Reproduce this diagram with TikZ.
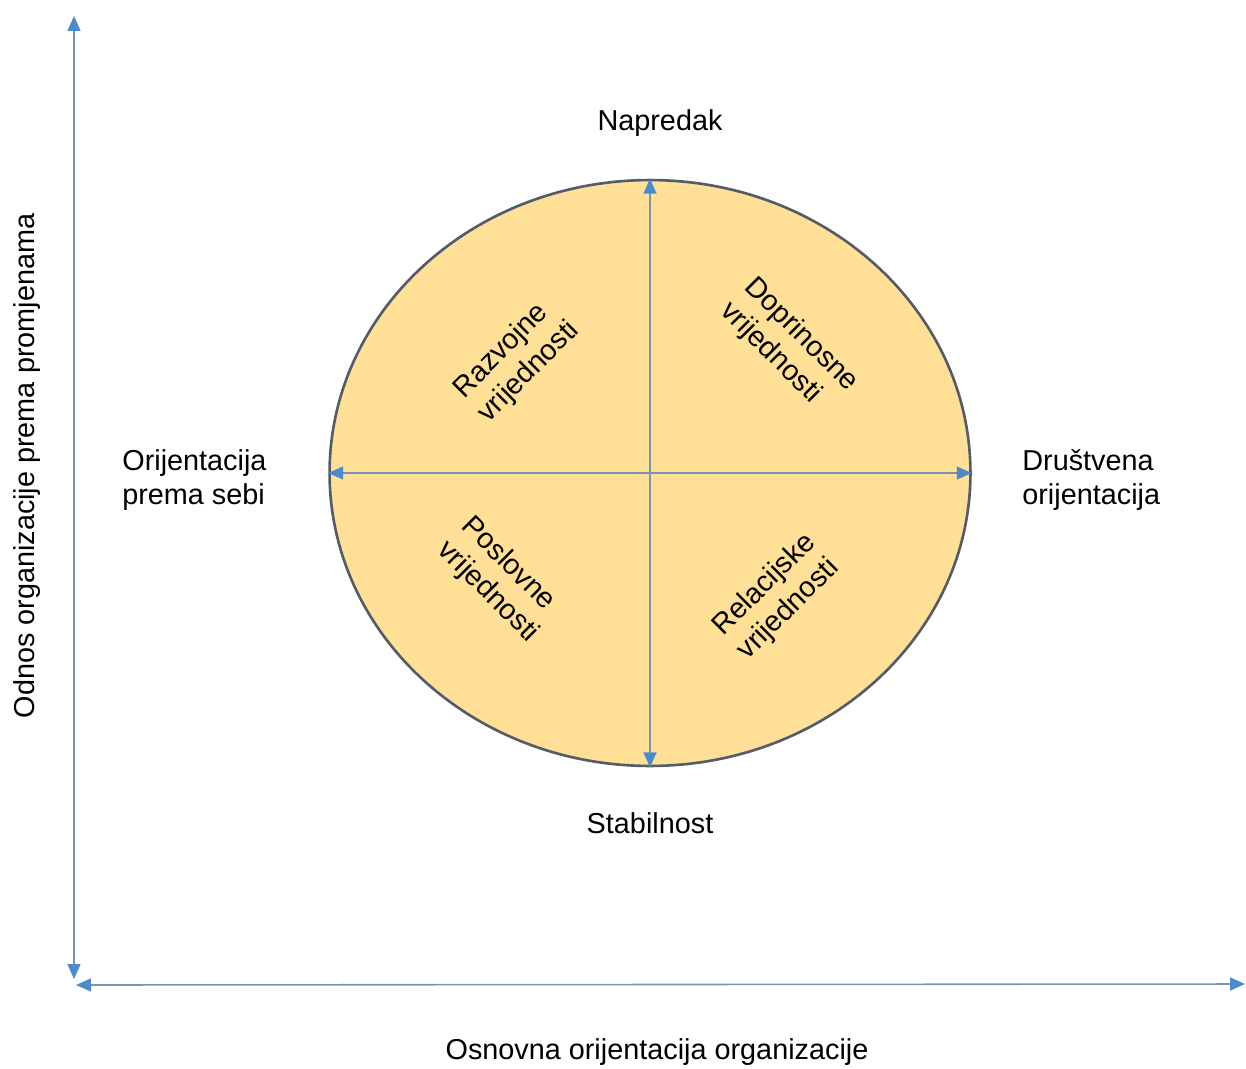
\documentclass[tikz,border=0pt]{standalone}
\usepackage{fontspec}
\setmainfont{Liberation Sans}
\usetikzlibrary{arrows.meta,shapes.geometric}
\definecolor{strelica}{HTML}{7A93B3}
\definecolor{vrh}{HTML}{4A8BCB}
\definecolor{zuta}{HTML}{FFE096}
\definecolor{rub}{HTML}{535C68}
\tikzset{
    os/.style = {{Triangle[length=0.3cm,width=0.26cm,color=vrh]}-{Triangle[length=0.3cm,width=0.26cm,color=vrh]}, line width=0.9pt, strelica},
    tekst/.style = {font=\fontsize{16.4}{19.5}\selectfont, align=left, inner sep=0pt}
}
\begin{document}
\begin{tikzpicture}[x = 0.02cm, y = -0.02cm]
                        \useasboundingbox (0,0) rectangle (1246,1068);
                        \node[ellipse, draw=rub, line width=1.5pt, fill=zuta, minimum width=12.82cm, minimum height=11.72cm, inner sep=0pt] (krug) at (650,473) {};
                        \draw[os] (krug.south) -- (krug.north);
                        \draw[os] (krug.west) -- (krug.east);
                        \coordinate (yDolje) at (74,979);
                        \coordinate (yGore) at (74,16);
                        \coordinate (xLijevo) at (76,985);
                        \coordinate (xDesno) at (1245,984);
                        \draw[os] (yDolje) -- (yGore);
                        \draw[os] (xLijevo) -- (xDesno);
                        \node[tekst] (napredak) at (660,123) {Napredak};
                        \node[tekst] (stabilnost) at (650,823) {Stabilnost};
                        \node[tekst, anchor=west] (sebi) at (122,480) {Orijentacija\\prema sebi};
                        \node[tekst, anchor=west] (drustvo) at (1022,480) {Društvena\\orijentacija};
                        \node[tekst, rotate=90] (promjene) at (27,466) {Odnos organizacije prema promjenama};
                        \node[tekst] (osnovna) at (657,1052) {Osnovna orijentacija organizacije};
                        \node[tekst, rotate=45] (razvoj) at (517,360) {Razvojne\\vrijednosti};
                        \node[tekst, rotate=-45] (doprinos) at (789,347) {Doprinosne\\vrijednosti};
                        \node[tekst, rotate=-45] (posao) at (500,580) {Poslovne\\vrijednosti};
                        \node[tekst, rotate=45] (relacija) at (777,597) {Relacijske\\vrijednosti};
                    \end{tikzpicture}
\end{document}
